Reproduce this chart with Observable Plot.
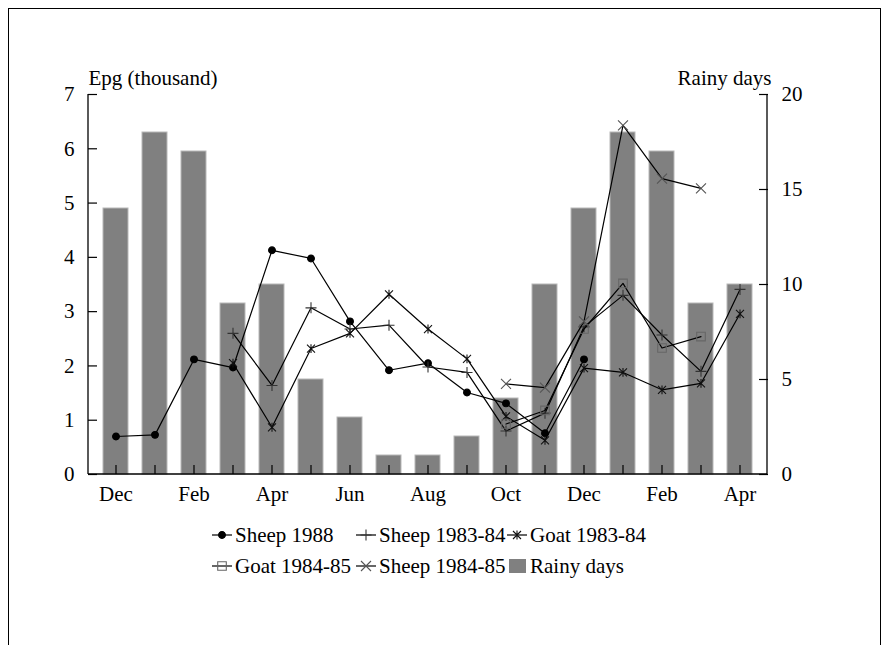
<!DOCTYPE html>
<html>
<head>
<meta charset="utf-8">
<script src="https://cdn.jsdelivr.net/npm/d3@7"></script>
<script src="https://cdn.jsdelivr.net/npm/@observablehq/plot@0.6"></script>
<style>
  body { margin: 0; background: #fff; }
  #wrap { position: relative; width: 894px; height: 645px; overflow: hidden; font-family: "Liberation Serif", "DejaVu Serif", serif; }
  #border { position: absolute; left: 8px; top: 8px; width: 873px; height: 700px; border: 1.5px solid #000; box-sizing: border-box; pointer-events: none; }
  #legend { position: absolute; left: 0; top: 0; }
  #legend .item { position: absolute; display: flex; align-items: center; height: 28px; font-size: 21px; color: #000; white-space: nowrap; font-family: "Liberation Serif", "DejaVu Serif", serif; }
  #legend svg { display: block; margin-right: 2px; }
</style>
</head>
<body>
<div id="wrap"><div id="border"></div><div id="legend"></div></div>
<script>
// ---- data ----
const months = ["Dec","Jan","Feb","Mar","Apr","May","Jun","Jul","Aug","Sep","Oct","Nov","Dec","Jan","Feb","Mar","Apr"];
const rainyDays = [14, 18, 17, 9, 10, 5, 3, 1, 1, 2, 4, 10, 14, 18, 17, 9, 10];
const sheep1988   = [0.70, 0.73, 2.12, 1.97, 4.13, 3.98, 2.82, 1.92, 2.05, 1.51, 1.31, 0.76, 2.12]; // from Dec
const sheep198384 = [2.60, 1.64, 3.07, 2.68, 2.75, 1.98, 1.88, 0.80, 1.13, 2.72, 3.30, 2.57, 1.90, 3.41]; // from Mar
const goat198384  = [2.05, 0.87, 2.32, 2.60, 3.32, 2.68, 2.13, 1.07, 0.63, 1.96, 1.88, 1.56, 1.68, 2.96]; // from Mar
const goat198485  = [0.93, 1.18, 2.68, 3.52, 2.33, 2.54]; // from Oct
const sheep198485 = [1.67, 1.60, 2.82, 6.43, 5.45, 5.27]; // from Oct
const epgTicks = [0, 1, 2, 3, 4, 5, 6, 7];
const rainyTicks = [0, 5, 10, 15, 20];

// ---- helpers ----
const K = 7 / 20; // rainy-day axis (0..20) onto Epg axis (0..7)
const idx = months.map((_, i) => i);
const FONT = "'Liberation Serif', 'DejaVu Serif', serif";

const symPlus  = {draw(c, s) { const r = Math.sqrt(s / Math.PI); c.moveTo(-r, 0); c.lineTo(r, 0); c.moveTo(0, -r); c.lineTo(0, r); }};
const symTimes = {draw(c, s) { const r = Math.sqrt(s / Math.PI); c.moveTo(-r, -r); c.lineTo(r, r); c.moveTo(-r, r); c.lineTo(r, -r); }};
const symStar  = {draw(c, s) { const r = Math.sqrt(s / Math.PI); c.moveTo(-r, -r); c.lineTo(r, r); c.moveTo(-r, r); c.lineTo(r, -r); c.moveTo(0, -r * 1.1); c.lineTo(0, r * 1.1); }};
const symSquare= {draw(c, s) { const r = Math.sqrt(s / Math.PI); c.rect(-r, -r, 2 * r, 2 * r); }};
const symCircle= {draw(c, s) { const r = Math.sqrt(s / Math.PI); c.moveTo(r, 0); c.arc(0, 0, r, 0, 2 * Math.PI); }};

const series = [
  {name: "Sheep 1988",    start: 0,  values: sheep1988,   sym: symCircle, r: 3.4, fill: "#000", stroke: "#000"},
  {name: "Sheep 1983-84", start: 3,  values: sheep198384, sym: symPlus,   r: 5.5, fill: "none", stroke: "#333"},
  {name: "Goat 1983-84",  start: 3,  values: goat198384,  sym: symStar,   r: 4,   fill: "none", stroke: "#111"},
  {name: "Goat 1984-85",  start: 10, values: goat198485,  sym: symSquare, r: 4.3, fill: "none", stroke: "#666"},
  {name: "Sheep 1984-85", start: 10, values: sheep198485, sym: symTimes,  r: 5,   fill: "none", stroke: "#555"}
];

const bars = rainyDays.map((d, i) => ({i, days: d}));

const lineMarks = series.flatMap(s => {
  const rows = s.values.map((v, k) => ({i: s.start + k, v}));
  return [
    Plot.line(rows, {x: "i", y: "v", stroke: "#000", strokeWidth: 1.2}),
    Plot.dot(rows, {x: "i", y: "v", symbol: s.sym, r: s.r, fill: s.fill, stroke: s.stroke, strokeWidth: 1.1})
  ];
});

// axis lines (left, right, bottom) drawn from the frame dimensions
const axisLines = (index, scales, values, dim) => {
  const g = d3.create("svg:g").attr("stroke", "#000").attr("stroke-width", 1.3);
  const x0 = dim.marginLeft, x1 = dim.width - dim.marginRight;
  const y0 = dim.marginTop, y1 = dim.height - dim.marginBottom;
  g.append("line").attr("x1", x0).attr("x2", x0).attr("y1", y0).attr("y2", y1);
  g.append("line").attr("x1", x1).attr("x2", x1).attr("y1", y0).attr("y2", y1);
  g.append("line").attr("x1", x0).attr("x2", x1).attr("y1", y1).attr("y2", y1);
  return g.node();
};

const chart = Plot.plot({
  width: 894,
  height: 645,
  marginLeft: 88,
  marginRight: 127,
  marginTop: 94,
  marginBottom: 171,
  style: {fontFamily: FONT, fontSize: "21px", color: "#000", background: "transparent"},
  x: {type: "band", domain: idx, paddingInner: 0.37, paddingOuter: 0.185},
  y: {domain: [0, 7]},
  marks: [
    Plot.barY(bars, {x: "i", y: d => d.days * K, fill: "#808080", stroke: "#b8b8b8", strokeWidth: 1}),
    ...lineMarks,
    axisLines,
    // left axis
    Plot.axisY({anchor: "left", ticks: epgTicks, tickFormat: d => String(d), tickSize: 0, tickPadding: 14, fontSize: 21, label: null}),
    Plot.axisY({anchor: "left", ticks: epgTicks, tickSize: 9, dx: 9, tickFormat: () => "", label: null, strokeWidth: 1.2}),
    // right axis
    Plot.axisY({anchor: "right", ticks: rainyTicks.map(d => d * K), tickFormat: d => String(Math.round(d / K)), tickSize: 0, tickPadding: 14, fontSize: 21, label: null}),
    Plot.axisY({anchor: "right", ticks: rainyTicks.map(d => d * K), tickSize: 9, dx: -9, tickFormat: () => "", label: null, strokeWidth: 1.2}),
    // bottom axis
    Plot.axisX({ticks: idx, tickFormat: i => (i % 2 === 0 ? months[i] : ""), tickSize: 0, tickPadding: 12, fontSize: 21, label: null}),
    Plot.axisX({ticks: idx, tickSize: 9, dy: -9, tickFormat: () => "", label: null, strokeWidth: 1.2}),
    // axis titles
    Plot.text(["Epg (thousand)"], {frameAnchor: "top-left", text: d => d, textAnchor: "start", lineAnchor: "middle", dy: -16, fontSize: 21}),
    Plot.text(["Rainy days"], {frameAnchor: "top-right", text: d => d, textAnchor: "end", lineAnchor: "middle", dx: 4, dy: -16, fontSize: 21})
  ]
});
chart.style.position = "absolute";
chart.style.left = "0px";
chart.style.top = "0px";
document.getElementById("wrap").insertBefore(chart, document.getElementById("border"));

// ---- legend ----
const legendItems = [
  {name: "Sheep 1988",    s: series[0], col: 0, row: 0},
  {name: "Sheep 1983-84", s: series[1], col: 1, row: 0},
  {name: "Goat 1983-84",  s: series[2], col: 2, row: 0},
  {name: "Goat 1984-85",  s: series[3], col: 0, row: 1},
  {name: "Sheep 1984-85", s: series[4], col: 1, row: 1},
  {name: "Rainy days",    s: null,      col: 2, row: 1}
];
const colX = [212, 356, 507];
const rowY = [535, 566];
const legend = d3.select("#legend");
legendItems.forEach(it => {
  const div = legend.append("div").attr("class", "item")
    .style("left", colX[it.col] + "px").style("top", (rowY[it.row] - 14) + "px");
  const svg = div.append("svg").attr("width", 21).attr("height", 20);
  if (it.s) {
    svg.append("line").attr("x1", 0).attr("x2", 20).attr("y1", 10).attr("y2", 10).attr("stroke", "#000").attr("stroke-width", 1.2);
    const p = d3.path();
    it.s.sym.draw(p, Math.PI * it.s.r * it.s.r);
    svg.append("path").attr("transform", "translate(10,10)").attr("d", p.toString())
      .attr("fill", it.s.fill).attr("stroke", it.s.stroke).attr("stroke-width", 1.1);
  } else {
    svg.append("rect").attr("x", 2).attr("y", 3).attr("width", 17).attr("height", 14).attr("fill", "#808080");
  }
  div.append("span").text(it.name);
});
</script>
</body>
</html>
